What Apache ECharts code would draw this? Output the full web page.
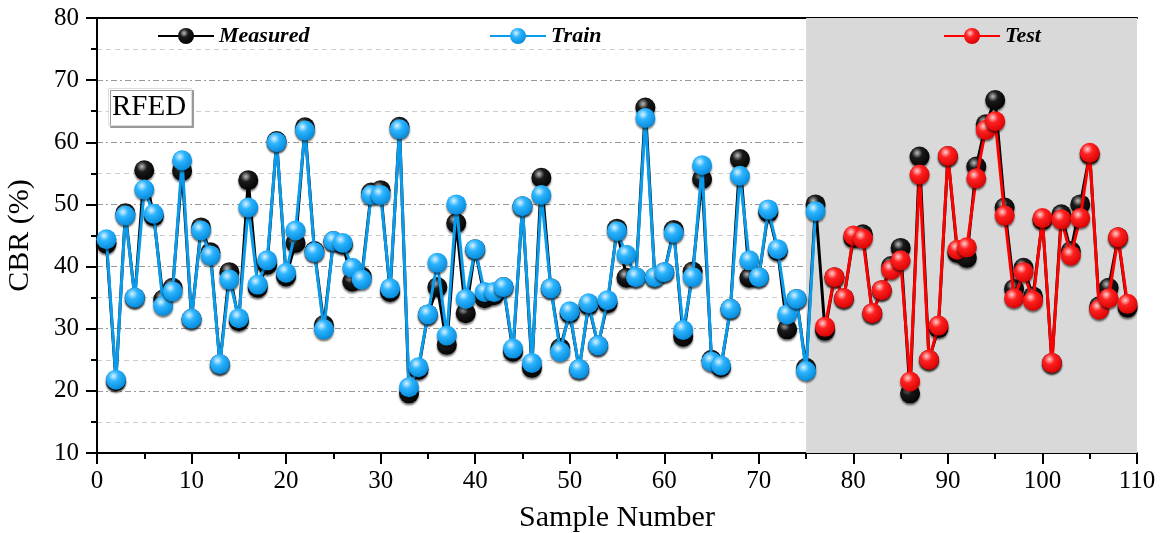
<!DOCTYPE html>
<html>
<head>
<meta charset="utf-8">
<script src="https://cdn.jsdelivr.net/npm/echarts@6/dist/echarts.min.js"></script>
<style>
  html, body { margin: 0; padding: 0; background: #fff; overflow: hidden; }
  #main { width: 1166px; height: 533px; }
</style>
</head>
<body>
<div id="main"></div>
<script>
// CBR values (sample 1..109)
var measured = [43.7, 21.6, 48.6, 35.0, 55.5, 48.1, 34.7, 36.6, 55.4, 31.6,
  46.3, 42.3, 24.3, 39.1, 31.2, 53.9, 36.6, 40.3, 60.2, 38.4,
  43.8, 62.4, 42.5, 30.6, 44.1, 43.6, 37.6, 38.4, 51.9, 52.3,
  35.9, 62.5, 19.6, 23.4, 32.3, 36.7, 27.4, 47.0, 32.5, 42.8,
  34.9, 35.4, 36.7, 26.3, 49.7, 23.7, 54.3, 36.5, 26.9, 32.5,
  23.5, 33.8, 27.3, 34.1, 46.1, 38.2, 38.3, 65.6, 38.3, 39.1,
  45.9, 28.7, 39.2, 54.1, 25.0, 23.8, 33.2, 57.3, 38.2, 38.3,
  48.7, 42.5, 29.9, 34.8, 23.7, 50.0, 29.7, 38.3, 34.9, 44.6,
  45.2, 32.5, 36.2, 40.1, 43.0, 19.6, 57.7, 25.0, 30.1, 57.8,
  42.2, 41.4, 56.1, 62.9, 66.8, 49.5, 36.4, 39.8, 35.2, 47.5,
  24.5, 48.4, 42.5, 50.0, 58.1, 33.6, 36.6, 44.7, 33.4];

// predicted, train samples 1..76
var train = [44.4, 21.8, 48.2, 35.0, 52.4, 48.5, 33.7, 36.0, 57.1, 31.6,
  45.8, 41.8, 24.3, 37.9, 31.7, 49.5, 37.1, 41.0, 60.0, 39.0,
  45.8, 61.9, 42.3, 29.9, 44.1, 43.8, 39.8, 37.9, 51.5, 51.5,
  36.5, 62.1, 20.6, 23.8, 32.3, 40.6, 28.9, 50.0, 34.8, 42.8,
  35.9, 35.9, 36.7, 26.8, 49.7, 24.5, 51.5, 36.5, 26.3, 32.8,
  23.5, 34.1, 27.3, 34.6, 45.7, 41.9, 38.3, 63.9, 38.3, 39.1,
  45.4, 29.8, 38.3, 56.3, 24.7, 24.1, 33.2, 54.6, 41.0, 38.3,
  49.2, 42.8, 32.3, 34.8, 23.2, 48.9];

// predicted, test samples 77..109
var test = [30.3, 38.3, 34.9, 45.0, 44.5, 32.5, 36.2, 39.5, 41.0, 21.5,
  54.8, 25.0, 30.5, 57.8, 42.7, 43.1, 54.2, 62.0, 63.4, 48.2,
  34.9, 39.1, 34.5, 47.8, 24.5, 47.6, 41.8, 47.8, 58.3, 33.1,
  34.9, 44.7, 34.0];

var trainStart = 1;
var testStart = 77;
var testRegion = [75, 110];

function withX(vals, start) {
  return vals.map(function (v, i) { return [start + i, v]; });
}

function ball(light, mid, dark) {
  return new echarts.graphic.RadialGradient(0.38, 0.32, 0.75, [
    { offset: 0, color: light },
    { offset: 0.35, color: mid },
    { offset: 1, color: dark }
  ]);
}

var serif = '"Liberation Serif", "Times New Roman", serif';

var myChart = echarts.init(document.getElementById('main'));

function lineSeries(name, data, lineColor, fill, z) {
  return {
    name: name,
    type: 'line',
    data: data,
    z: z,
    symbol: 'circle',
    symbolSize: 20,
    lineStyle: { color: lineColor, width: 3 },
    itemStyle: {
      color: fill,
      borderWidth: 0,
      shadowColor: 'rgba(0,0,0,0.55)',
      shadowBlur: 2,
      shadowOffsetY: 2
    },
    emphasis: { disabled: true },
    animation: false
  };
}

var legendText = { fontFamily: serif, fontSize: 22, fontStyle: 'italic', fontWeight: 'bold', color: '#000' };

var option = {
  backgroundColor: '#fff',
  animation: false,
  title: {
    text: 'RFED',
    left: 108,
    top: 88,
    padding: [5, 6, 4, 4],
    backgroundColor: '#fff',
    borderColor: '#ddd',
    borderWidth: 1,
    shadowColor: '#999',
    shadowOffsetX: 2,
    shadowOffsetY: 2,
    textStyle: { fontFamily: serif, fontSize: 29, fontWeight: 'normal', color: '#000' }
  },
  legend: [
    { data: ['Measured'], left: 152, top: 20, itemWidth: 56, itemHeight: 20, textStyle: legendText },
    { data: ['Train'], left: 484, top: 20, itemWidth: 56, itemHeight: 20, textStyle: legendText },
    { data: ['Test'], left: 938, top: 20, itemWidth: 56, itemHeight: 20, textStyle: legendText }
  ],
  grid: { left: 97, right: 29, top: 18, bottom: 80, containLabel: false, outerBoundsMode: 'none' },
  xAxis: [{
    type: 'value',
    min: 0, max: 110, interval: 10,
    name: 'Sample Number',
    nameLocation: 'middle',
    nameGap: 50,
    nameTextStyle: { fontFamily: serif, fontSize: 30, color: '#000' },
    axisLine: { lineStyle: { color: '#000', width: 2 } },
    axisTick: { length: 11, lineStyle: { color: '#000', width: 2 } },
    minorTick: { show: true, splitNumber: 2, length: 6, lineStyle: { color: '#000', width: 2 } },
    axisLabel: { margin: 16, fontFamily: serif, fontSize: 25, color: '#000' },
    splitLine: { show: false }
  }, {
    type: 'value', position: 'top', min: 0, max: 110,
    axisLine: { lineStyle: { color: '#000', width: 2 } },
    axisTick: { show: false }, axisLabel: { show: false }, splitLine: { show: false }
  }],
  yAxis: [{
    type: 'value',
    min: 10, max: 80, interval: 10,
    name: 'CBR (%)',
    nameLocation: 'middle',
    nameGap: 62,
    nameTextStyle: { fontFamily: serif, fontSize: 30, color: '#000' },
    axisLine: { show: true, lineStyle: { color: '#000', width: 2 } },
    axisTick: { show: true, length: 11, lineStyle: { color: '#000', width: 2 } },
    minorTick: { show: true, splitNumber: 2, length: 6, lineStyle: { color: '#000', width: 2 } },
    axisLabel: { margin: 18, fontFamily: serif, fontSize: 25, color: '#000' },
    splitLine: { show: true, lineStyle: { color: '#999', width: 1, type: [6, 3, 2, 3] } },
    minorSplitLine: { show: true, lineStyle: { color: '#ccc', width: 1, type: [5, 4] } }
  }, {
    type: 'value', position: 'right', min: 10, max: 80,
    axisLine: { show: true, lineStyle: { color: '#000', width: 2 } },
    axisTick: { show: false }, axisLabel: { show: false }, splitLine: { show: false }
  }],
  series: [
    {
      name: 'region',
      type: 'line',
      data: [],
      z: -1,
      markArea: {
        silent: true,
        itemStyle: { color: '#d9d9d9' },
        data: [[{ xAxis: testRegion[0] }, { xAxis: testRegion[1] }]]
      }
    },
    lineSeries('Measured', withX(measured, 1), '#000',
      ball('#bdbdbd', '#1a1a1a', '#000'), 3),
    lineSeries('Train', withX(train, trainStart), '#0a9cec',
      ball('#d8f2ff', '#2db4ff', '#0086d6'), 4),
    lineSeries('Test', withX(test, testStart), '#ff0000',
      ball('#ffd0d0', '#ff2020', '#d40000'), 4)
  ]
};

myChart.setOption(option);
window.addEventListener('resize', myChart.resize);
</script>
</body>
</html>
